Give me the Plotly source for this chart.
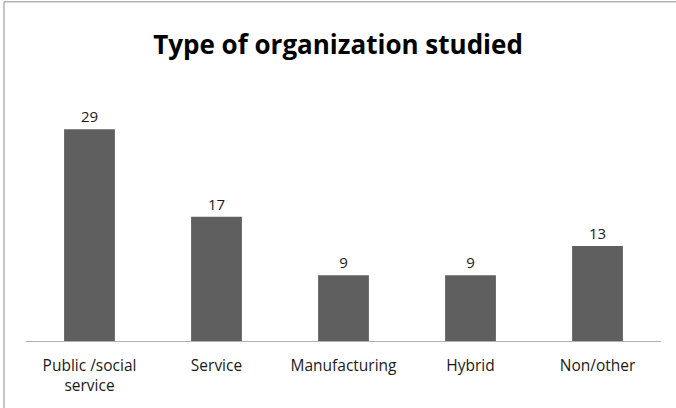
import plotly.graph_objects as go

categories = ["Public /social<br>service", "Service", "Manufacturing", "Hybrid", "Non/other"]
values = [29, 17, 9, 9, 13]
title_text = "Type of organization studied"

W, H = 676, 408
ml, mr, mt, mb = 26, 15, 100, 65
pw, ph = W - ml - mr, H - mt - mb

def px_x(px):
    return (px - ml) / pw

def px_y(py):
    return (H - mb - py) / ph

fig = go.Figure(go.Bar(
    x=categories, y=values,
    marker=dict(color="#5f5f5f", line=dict(width=0)),
    text=[str(v) for v in values], textposition="outside",
    textfont=dict(family="Open Sans", size=15, color="#1a1a1a"),
    cliponaxis=False,
))

fig.update_layout(
    width=W, height=H,
    margin=dict(l=ml, r=mr, t=mt, b=mb),
    paper_bgcolor="white", plot_bgcolor="white",
    bargap=0.6,
    showlegend=False,
    title=dict(text="<b>" + title_text + "</b>", x=0.5, xanchor="center",
               y=1 - 45 / H, yanchor="middle",
               font=dict(family="Open Sans", size=26, color="black")),
    xaxis=dict(showline=True, linecolor="#b0b0b0", linewidth=1, ticks="",
               ticklabelstandoff=10,
               tickfont=dict(family="Open Sans", size=15.5, color="#1a1a1a"),
               showgrid=False, zeroline=False),
    yaxis=dict(range=[0, 33], visible=False, showgrid=False),
    shapes=[
        dict(type="line", xref="paper", yref="paper", x0=px_x(4), x1=px_x(680),
             y0=px_y(1), y1=px_y(1), line=dict(color="#8c8c8c", width=1)),
        dict(type="line", xref="paper", yref="paper", x0=px_x(4), x1=px_x(4),
             y0=px_y(1), y1=px_y(412), line=dict(color="#8c8c8c", width=1)),
    ],
)

fig.write_html("out.html", config={"displayModeBar": False},
               post_script="document.body.style.margin='0';")
